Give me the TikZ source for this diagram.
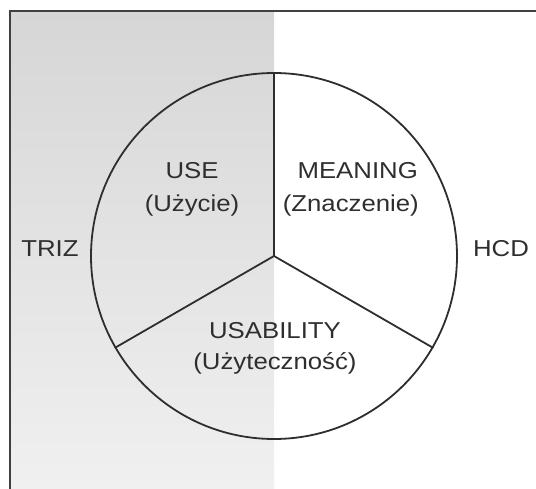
\documentclass[tikz,border=0pt]{standalone}
\usepackage{fontspec}
\newfontfamily\labfont{Liberation Sans}[FakeStretch=1.12]
\definecolor{ink}{HTML}{2E2E2E}
\definecolor{framegray}{HTML}{404040}
\definecolor{shadetop}{HTML}{D6D6D6}
\definecolor{shadebottom}{HTML}{F0F0F0}
\tikzset{
  lab/.style={anchor=base, inner sep=0pt, text=ink, font=\labfont\fontsize{23}{27}\selectfont},
  rim/.style={draw=ink, line width=1.8pt},
  spoke/.style={draw=ink, line width=1.8pt},
  frame/.style={draw=framegray, line width=2pt}
}
\begin{document}
\begin{tikzpicture}[x=1pt,y=-1pt]
\useasboundingbox (0,0) rectangle (536,489);
% shaded TRIZ half
\shade[top color=shadetop, bottom color=shadebottom] (10,11) rectangle (274,489);
% frame (open to the right and bottom)
\draw[frame] (10,492) -- (10,11) -- (540,11);
% the three-part circle
\node[circle, rim, minimum size=366pt, inner sep=0pt] (c) at (274,256) {};
\draw[spoke] (c.center) -- (c.90);
\draw[spoke] (c.center) -- (c.210);
\draw[spoke] (c.center) -- (c.330);
% sector labels
\node[lab] (use) at (192,179) {USE};
\node[lab] (usep) at (192,211.5) {(Użycie)};
\node[lab, anchor=base east] (mean) at (418,179) {MEANING};
\node[lab, anchor=base east] (meanp) at (419,211.5) {(Znaczenie)};
\node[lab] (usab) at (275,339) {USABILITY};
\node[lab] (usabp) at (275,370) {(Użyteczność)};
% side labels
\node[lab] (triz) at (50,257) {TRIZ};
\node[lab] (hcd) at (501,257) {HCD};
\end{tikzpicture}
\end{document}
